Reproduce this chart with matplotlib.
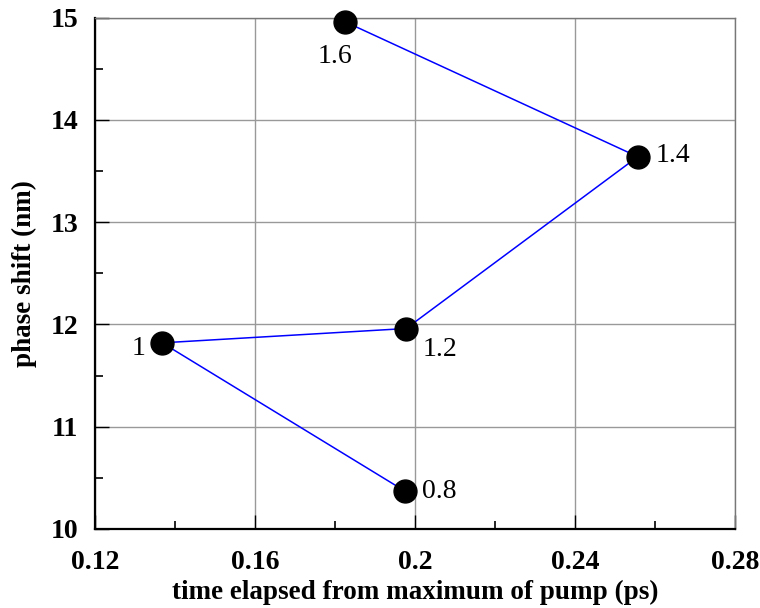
import matplotlib.pyplot as plt
from matplotlib.ticker import MultipleLocator

plt.rcParams['font.family'] = ['Liberation Serif', 'DejaVu Serif']

# data
elapsed = [0.1975, 0.1368, 0.1978, 0.2557, 0.1825]
shift = [10.37, 11.82, 11.96, 13.64, 14.96]
tags = ['0.8', '1', '1.2', '1.4', '1.6']
# label offsets in points (dx, dy) and alignment
offs = [(12, 0, 'left', 'center'), (-12, -4, 'right', 'center'),
        (12, -15, 'left', 'center'), (13, 1, 'left', 'center'),
        (-7, -25, 'center', 'center')]

fig = plt.figure(figsize=(7.6, 6.08), dpi=100)
ax = fig.add_axes([0.125, 0.13, 0.842, 0.841])

ax.plot(elapsed, shift, color='blue', lw=1.1, zorder=3)
ax.plot(elapsed, shift, 'o', color='black', ms=16.5, clip_on=False, zorder=4)
for x, y, t, (dx, dy, ha, va) in zip(elapsed, shift, tags, offs):
    ax.annotate(t, (x, y), xytext=(dx, dy), textcoords='offset points',
                ha=ha, va=va, fontsize=20)

ax.set_xlim(0.12, 0.28)
ax.set_ylim(10, 15)
ax.xaxis.set_minor_locator(MultipleLocator(0.02))
ax.yaxis.set_major_locator(MultipleLocator(1))
ax.yaxis.set_minor_locator(MultipleLocator(0.5))
ax.set_xticks([0.12, 0.16, 0.2, 0.24, 0.28])
ax.set_xticklabels(['0.12', '0.16', '0.2', '0.24', '0.28'])
ax.grid(True, which='major', color='#999999', lw=1.0)

ax.tick_params(which='both', direction='in', top=False, right=False,
               labelsize=20, color='black')
ax.tick_params(which='major', length=10, width=1.0)
ax.tick_params(which='minor', length=6, width=1.2)
ax.tick_params(axis='x', which='major', pad=15)
ax.tick_params(axis='y', which='major', pad=12)
for lab in ax.get_xticklabels() + ax.get_yticklabels():
    lab.set_fontweight('bold')

for s in ['left', 'bottom']:
    ax.spines[s].set_linewidth(1.6)
    ax.spines[s].set_color('black')
for s in ['top', 'right']:
    ax.spines[s].set_linewidth(1.0)
    ax.spines[s].set_color('#777777')

ax.set_xlabel('time elapsed from maximum of pump (ps)', fontsize=19.5,
              fontweight='bold', labelpad=4)
ax.set_ylabel('phase shift (nm)', fontsize=19.5, fontweight='bold', labelpad=10)

fig.savefig('out.png', dpi=100)
